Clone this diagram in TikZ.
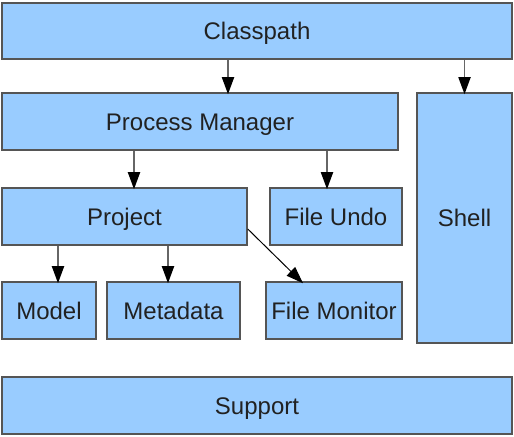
\documentclass[tikz,border=0pt]{standalone}
\usepackage{fontspec}
\setmainfont{Liberation Sans}
\usepackage{xcolor}
\usetikzlibrary{arrows.meta}
\definecolor{boxblue}{HTML}{99CCFF}
\definecolor{boxline}{HTML}{555555}
\tikzset{module/.style={rectangle,draw=boxline,fill=boxblue,line width=0.75pt,
		inner sep=0pt,minimum height=28.5pt,text=black!87,
		text height=8.6pt,text depth=0pt,
		font=\fontsize{12pt}{14pt}\selectfont}}

\begin{document}
\begin{tikzpicture}[x=0.5pt,y=-0.5pt]
		\useasboundingbox (0,0) rectangle (514,437);
		\begin{scope}[every node/.style={module}]
			\node[minimum width=255pt,minimum height=28pt] (Classpath) at (257,31) {Classpath};
			\node[minimum width=198pt] (PM) at (200,121.5) {Process Manager};
			\node[minimum width=47.5pt,minimum height=125pt] (Shell) at (464.5,218) {Shell};
			\node[minimum width=122.5pt] (Project) at (124.5,216.5) {Project};
			\node[minimum width=66pt] (Undo) at (336,216.5) {File Undo};
			\node[minimum width=47pt] (Model) at (49,310.5) {Model};
			\node[minimum width=66.5pt] (Meta) at (173.5,310.5) {Metadata};
			\node[minimum width=68pt] (Monitor) at (334,310.5) {File Monitor};
			\node[minimum width=255pt] (Support) at (257,405.5) {Support};
		\end{scope}
		\begin{scope}[>={Triangle[length=8.5pt,width=6pt,black]},
			line width=0.9pt,draw=black!60]
			\draw [->] (Classpath.south -| 228,0) -- ([yshift=-1pt]PM.north -| 228,0);
			\draw [->] (Classpath.south -| Shell.north) -- ([yshift=-1pt]Shell.north);
			\draw [->] (PM.south -| 134,0) -- ([yshift=-1pt]Project.north -| 134,0);
			\draw [->] (PM.south -| 327,0) -- ([yshift=-1pt]Undo.north -| 327,0);
			\draw [->] (Project.south -| 58,0) -- ([yshift=-1pt]Model.north -| 58,0);
			\draw [->] (Project.south -| 168,0) -- ([yshift=-1pt]Meta.north -| 168,0);
			\draw [->,draw=black,line width=0.5pt] ([yshift=-6.25pt]Project.east) -- ([xshift=-15.5pt,yshift=-1pt]Monitor.north);
		\end{scope}
	\end{tikzpicture}
\end{document}
